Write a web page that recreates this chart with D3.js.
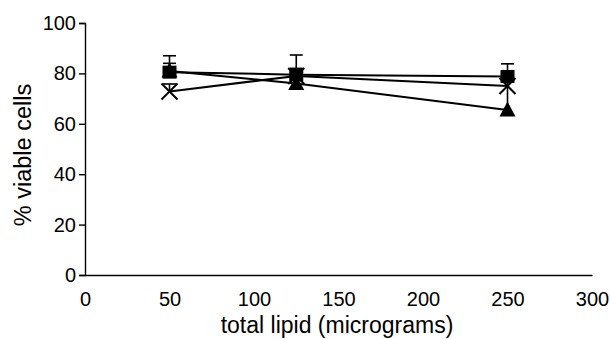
<!DOCTYPE html>
<html><head><meta charset="utf-8">
<script src="https://cdn.jsdelivr.net/npm/d3@7"></script>
<style>body{margin:0;background:#fff}svg{display:block}text{font-family:"Liberation Sans",Arial,sans-serif;fill:#000}</style>
</head><body><svg id="c" width="610" height="339"></svg>
<script>
const doses = [50, 125, 250];
const squareVals = [80.5, 79.5, 78.8];
const squareErrUp = [6.5, 7.8, 5];
const triangleVals = [81, 76, 65.5];
const triangleErrUp = [3, 3, 11];
const crossVals = [72.8, 79, 75];
const crossErrUp = [3, 3, 3];
const xTicks = [0, 50, 100, 150, 200, 250, 300];
const yTicks = [0, 20, 40, 60, 80, 100];

const svg = d3.select("#c");
const x = d3.scaleLinear().domain([0, 300]).range([85, 592]);
const y = d3.scaleLinear().domain([0, 100]).range([275, 23]);

const ax = svg.append("g").attr("transform", "translate(0,275)")
  .call(d3.axisBottom(x).tickValues(xTicks).tickSize(0).tickPadding(0));
ax.select(".domain").attr("stroke", "#000").attr("stroke-width", 1.4);
ax.selectAll("text").attr("font-size", 20).attr("y", 31).attr("dy", null);

const ay = svg.append("g").attr("transform", "translate(85,0)")
  .call(d3.axisLeft(y).tickValues(yTicks).tickSize(6).tickPadding(3));
ay.select(".domain").attr("stroke", "#000").attr("stroke-width", 1.4);
ay.selectAll("line").attr("stroke", "#000").attr("stroke-width", 1.4);
ay.selectAll("text").attr("font-size", 20);

svg.append("text").attr("x", 337).attr("y", 333).attr("text-anchor", "middle")
  .attr("font-size", 23).text("total lipid (micrograms)");
svg.append("text").attr("transform", "translate(31,155) rotate(-90)").attr("text-anchor", "middle")
  .attr("font-size", 23.5).text("% viable cells");

const line = d3.line().x((d, i) => x(doses[i])).y(d => y(d));
[triangleVals, crossVals, squareVals].forEach(vals => {
  svg.append("path").attr("d", line(vals)).attr("fill", "none").attr("stroke", "#000").attr("stroke-width", 2);
});

function errUp(vals, errs) {
  doses.forEach((dv, i) => {
    const cx = x(dv), top = y(vals[i] + errs[i]);
    svg.append("line").attr("x1", cx).attr("x2", cx).attr("y1", y(vals[i])).attr("y2", top).attr("stroke", "#000").attr("stroke-width", 1.6);
    svg.append("line").attr("x1", cx - 6.5).attr("x2", cx + 6.5).attr("y1", top).attr("y2", top).attr("stroke", "#000").attr("stroke-width", 1.6);
  });
}
errUp(triangleVals, triangleErrUp);
errUp(crossVals, crossErrUp);
errUp(squareVals, squareErrUp);

// cross markers
doses.forEach((dv, i) => {
  const cx = x(dv), cy = y(crossVals[i]), s = 8;
  svg.append("path").attr("d", `M${cx - s},${cy - s}L${cx + s},${cy + s}M${cx - s},${cy + s}L${cx + s},${cy - s}`)
    .attr("stroke", "#000").attr("stroke-width", 2).attr("fill", "none");
});
// triangles
doses.forEach((dv, i) => {
  const cx = x(dv), cy = y(triangleVals[i]);
  svg.append("path").attr("d", `M${cx},${cy - 8.5}L${cx + 8},${cy + 6.5}L${cx - 8},${cy + 6.5}Z`).attr("fill", "#000");
});
// squares
doses.forEach((dv, i) => {
  const cx = x(dv), cy = y(squareVals[i]);
  svg.append("rect").attr("x", cx - 7).attr("y", cy - 6.5).attr("width", 14).attr("height", 13).attr("fill", "#000");
});
</script></body></html>
